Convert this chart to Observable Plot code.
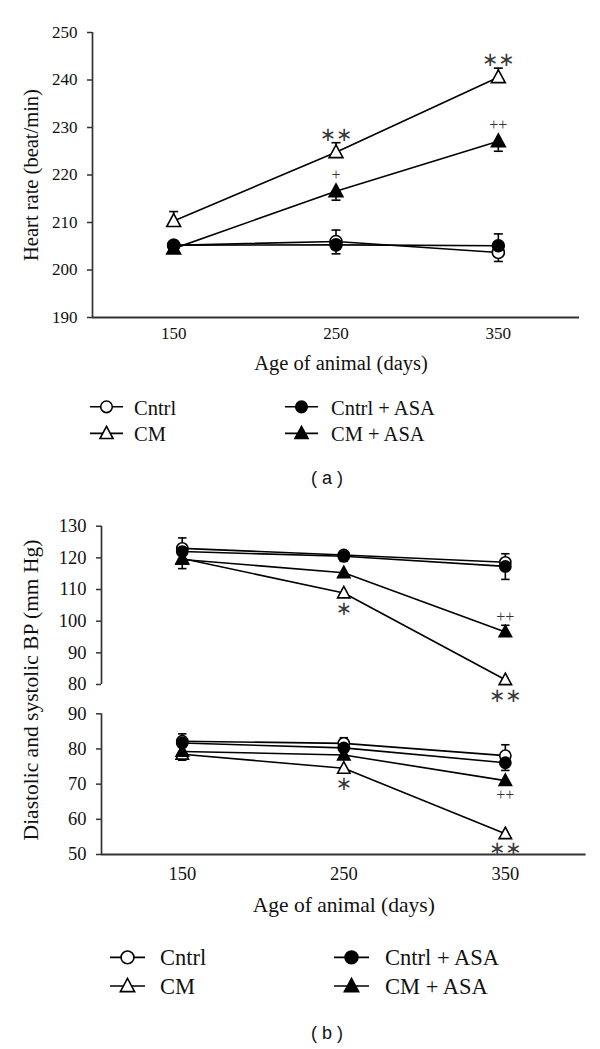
<!DOCTYPE html>
<html>
<head>
<meta charset="utf-8">
<script src="https://cdn.jsdelivr.net/npm/d3@7"></script>
<script src="https://cdn.jsdelivr.net/npm/@observablehq/plot@0.6"></script>
<style>
  body { margin: 0; background: #fff; }
  #page { position: relative; width: 600px; height: 1049px; overflow: hidden; background: #fff;
          font-family: "Liberation Serif", "DejaVu Serif", serif; color: #111; }
  .ltext { position: absolute; white-space: nowrap; line-height: 1; transform: translateY(-50%);
           font-family: "Liberation Serif", "DejaVu Serif", serif; color: #111; }
  .panel-label { position: absolute; font-family: "Liberation Sans", "DejaVu Sans", sans-serif;
                 white-space: pre; line-height: 1; transform: translate(-50%, -50%); color: #111; }
  .ytitle { position: absolute; white-space: nowrap; line-height: 1;
            font-family: "Liberation Serif", "DejaVu Serif", serif; color: #111;
            transform: translate(-50%, -50%) rotate(-90deg); }
</style>
</head>
<body>
<div id="page"></div>
<script>
// ---------------- data ----------------
const ages = [150, 250, 350];
const groups = ["Cntrl", "CM", "Cntrl + ASA", "CM + ASA"];
const xDomain = [100, 400];

// (a) Heart rate (beat/min), mean and SEM
const hrTicks = [190, 200, 210, 220, 230, 240, 250];
const hrCntrl       = [205.2, 206.0, 203.7];
const hrCm          = [210.3, 224.8, 240.6];
const hrCntrlAsa    = [205.2, 205.3, 205.1];
const hrCmAsa       = [204.5, 216.6, 227.1];
const hrCntrlSem    = [0.7, 2.4, 1.9];
const hrCmSem       = [2.0, 2.0, 1.9];
const hrCntrlAsaSem = [0.8, 1.9, 2.5];
const hrCmAsaSem    = [0.8, 1.9, 2.1];
// side on which the error bar is drawn (+1 above, -1 below)
const hrCntrlSide    = [1, 1, -1];
const hrCmSide       = [1, 1, 1];
const hrCntrlAsaSide = [-1, -1, 1];
const hrCmAsaSide    = [-1, -1, -1];
const hrCmSig    = ["", "∗∗", "∗∗"];
const hrCmAsaSig = ["", "+", "++"];

// (b) systolic BP (mm Hg)
const sbpTicks = [80, 90, 100, 110, 120, 130];
const sbpCntrl       = [123.0, 120.9, 118.6];
const sbpCm          = [119.8, 108.9, 81.5];
const sbpCntrlAsa    = [122.0, 120.5, 117.3];
const sbpCmAsa       = [119.5, 115.3, 96.6];
const sbpCntrlSem    = [3.3, 1.2, 2.7];
const sbpCmSem       = [0.8, 1.3, 0.6];
const sbpCntrlAsaSem = [1.0, 1.6, 4.1];
const sbpCmAsaSem    = [2.9, 1.0, 2.1];
const sbpCntrlSide    = [1, 1, 1];
const sbpCmSide       = [-1, -1, -1];
const sbpCntrlAsaSide = [1, -1, -1];
const sbpCmAsaSide    = [-1, -1, 1];
const sbpCmSig    = ["", "∗", "∗∗"];
const sbpCmAsaSig = ["", "", "++"];

// (b) diastolic BP (mm Hg)
const dbpTicks = [50, 60, 70, 80, 90];
const dbpCntrl       = [82.2, 81.6, 78.1];
const dbpCm          = [78.5, 74.5, 55.9];
const dbpCntrlAsa    = [81.7, 80.3, 76.1];
const dbpCmAsa       = [79.3, 78.3, 71.0];
const dbpCntrlSem    = [2.1, 1.6, 3.1];
const dbpCmSem       = [1.7, 0.9, 0.5];
const dbpCntrlAsaSem = [1.0, 0.8, 2.2];
const dbpCmAsaSem    = [0.8, 0.8, 0.8];
const dbpCntrlSide    = [1, 1, 1];
const dbpCmSide       = [-1, -1, -1];
const dbpCntrlAsaSide = [-1, -1, -1];
const dbpCmAsaSide    = [-1, -1, -1];
const dbpCmSig    = ["", "∗", "∗∗"];
const dbpCmAsaSig = ["", "", "++"];

// ---------------- build tables ----------------
function buildTable(series) {
  const rows = [];
  for (const s of series) {
    ages.forEach((age, i) => rows.push({
      group: s.group, age, mean: s.mean[i], sem: s.sem[i], side: s.side[i],
      sig: s.sig ? s.sig[i] : "", sigDir: s.sigDir || 0
    }));
  }
  return rows;
}
const hrTable = buildTable([
  {group: "Cntrl", mean: hrCntrl, sem: hrCntrlSem, side: hrCntrlSide},
  {group: "CM", mean: hrCm, sem: hrCmSem, side: hrCmSide, sig: hrCmSig, sigDir: -1},
  {group: "Cntrl + ASA", mean: hrCntrlAsa, sem: hrCntrlAsaSem, side: hrCntrlAsaSide},
  {group: "CM + ASA", mean: hrCmAsa, sem: hrCmAsaSem, side: hrCmAsaSide, sig: hrCmAsaSig, sigDir: -1}
]);
const sbpTable = buildTable([
  {group: "Cntrl", mean: sbpCntrl, sem: sbpCntrlSem, side: sbpCntrlSide},
  {group: "CM", mean: sbpCm, sem: sbpCmSem, side: sbpCmSide, sig: sbpCmSig, sigDir: 1},
  {group: "Cntrl + ASA", mean: sbpCntrlAsa, sem: sbpCntrlAsaSem, side: sbpCntrlAsaSide},
  {group: "CM + ASA", mean: sbpCmAsa, sem: sbpCmAsaSem, side: sbpCmAsaSide, sig: sbpCmAsaSig, sigDir: -1}
]);
const dbpTable = buildTable([
  {group: "Cntrl", mean: dbpCntrl, sem: dbpCntrlSem, side: dbpCntrlSide},
  {group: "CM", mean: dbpCm, sem: dbpCmSem, side: dbpCmSide, sig: dbpCmSig, sigDir: 1},
  {group: "Cntrl + ASA", mean: dbpCntrlAsa, sem: dbpCntrlAsaSem, side: dbpCntrlAsaSide},
  {group: "CM + ASA", mean: dbpCmAsa, sem: dbpCmAsaSem, side: dbpCmAsaSide, sig: dbpCmAsaSig, sigDir: 1}
]);

// ---------------- styling ----------------
const tri = {draw(ctx, size) {
  const r = Math.sqrt(size / Math.PI);
  ctx.moveTo(0, -r * 1.08); ctx.lineTo(r * 1.02, r * 0.8); ctx.lineTo(-r * 1.02, r * 0.8); ctx.closePath();
}};
const cap = {draw(ctx, size) {
  const r = Math.sqrt(size / Math.PI);
  ctx.moveTo(-r, 0); ctx.lineTo(r, 0);
}};
const markerStyle = {
  "Cntrl": {symbol: "circle", fill: "white"},
  "CM": {symbol: tri, fill: "white"},
  "Cntrl + ASA": {symbol: "circle", fill: "black"},
  "CM + ASA": {symbol: tri, fill: "black"}
};
const drawOrder = ["CM", "CM + ASA", "Cntrl", "Cntrl + ASA"];
const axisColor = "#333";
const serif = '"Liberation Serif", "DejaVu Serif", serif';
const SW = 1.6;

function dataMarks(table, {rc, rt, sigGap, capR}) {
  const errs = table.filter(d => d.sem > 0);
  const marks = [
    Plot.line(table, {x: "age", y: "mean", z: "group", stroke: "black", strokeWidth: SW}),
    Plot.ruleX(errs, {x: "age", y1: "mean", y2: d => d.mean + d.side * d.sem, stroke: "black", strokeWidth: SW}),
    Plot.dot(errs, {x: "age", y: d => d.mean + d.side * d.sem, symbol: cap, r: capR, stroke: "black", strokeWidth: SW, fill: "none"})
  ];
  for (const g of drawOrder) {
    const st = markerStyle[g];
    marks.push(Plot.dot(table.filter(d => d.group === g), {
      x: "age", y: "mean", symbol: st.symbol, r: st.symbol === "circle" ? rc : rt,
      fill: st.fill, stroke: "black", strokeWidth: SW
    }));
  }
  const sigs = table.filter(d => d.sig);
  for (const dir of [-1, 1]) {
    const sub = sigs.filter(d => d.sigDir === dir);
    const stars = sub.filter(d => d.sig.includes("∗"));
    const plus = sub.filter(d => d.sig.includes("+"));
    marks.push(Plot.text(stars, {x: "age", y: "mean", text: "sig", dy: dir * sigGap, lineAnchor: "middle",
      fontFamily: '"DejaVu Sans", sans-serif', fontSize: 19.5, fill: "#3a3a3a"}));
    marks.push(Plot.text(plus, {x: "age", y: "mean", text: "sig", dy: dir * (sigGap - 1), lineAnchor: "middle",
      fontFamily: serif, fontSize: 16, fill: "#333"}));
  }
  return marks;
}

const page = document.getElementById("page");
function place(node, top, left = 0) {
  node.style.position = "absolute";
  node.style.top = top + "px";
  node.style.left = left + "px";
  page.appendChild(node);
}

// ---------------- (a) heart rate ----------------
const chartA = Plot.plot({
  width: 600, height: 380,
  marginTop: 32, marginBottom: 63, marginLeft: 92, marginRight: 21,
  x: {domain: xDomain},
  y: {domain: [hrTicks[0], hrTicks[hrTicks.length - 1]]},
  style: {fontFamily: serif, fontSize: "17px", color: "#111", background: "transparent", overflow: "visible"},
  marks: [
    Plot.axisY({ticks: hrTicks, tickSize: 5, tickPadding: 10, label: null, stroke: axisColor, strokeWidth: 1.5, fontFamily: serif}),
    Plot.axisX({ticks: ages, tickSize: 0, tickPadding: 9, label: null, fontFamily: serif}),
    Plot.ruleX([xDomain[0]], {stroke: axisColor, strokeWidth: 1.7}),
    Plot.ruleY([hrTicks[0]], {stroke: axisColor, strokeWidth: 1.9}),
    ...dataMarks(hrTable, {rc: 6, rt: 6.8, sigGap: 17, capR: 4.5}),
    Plot.text(["Age of animal (days)"], {text: d => d, frameAnchor: "bottom", dy: 46, dx: 5, textAnchor: "middle", lineAnchor: "middle", fontSize: 20.5, fontFamily: serif}),
    Plot.text(["Heart rate (beat/min)"], {text: d => d, frameAnchor: "left", dx: -61, rotate: -90, textAnchor: "middle", lineAnchor: "middle", fontSize: 20.5, fontFamily: serif})
  ]
});
place(chartA, 0);

// ---------------- (b) systolic (upper) ----------------
const chartB1 = Plot.plot({
  width: 600, height: 190,
  marginTop: 25.7, marginBottom: 6, marginLeft: 101, marginRight: 14.4,
  x: {domain: xDomain, axis: null},
  y: {domain: [sbpTicks[0], sbpTicks[sbpTicks.length - 1]]},
  style: {fontFamily: serif, fontSize: "18.5px", color: "#111", background: "transparent", overflow: "visible"},
  marks: [
    Plot.axisY({ticks: sbpTicks, tickSize: 5, tickPadding: 10, label: null, stroke: axisColor, strokeWidth: 1.5, fontFamily: serif}),
    Plot.ruleX([xDomain[0]], {stroke: axisColor, strokeWidth: 1.7}),
    ...dataMarks(sbpTable, {rc: 5.6, rt: 6.1, sigGap: 16, capR: 4.2})
  ]
});
place(chartB1, 500);

// ---------------- (b) diastolic (lower) ----------------
const chartB2 = Plot.plot({
  width: 600, height: 224,
  marginTop: 13.3, marginBottom: 70, marginLeft: 101, marginRight: 14.4,
  x: {domain: xDomain},
  y: {domain: [dbpTicks[0], dbpTicks[dbpTicks.length - 1]]},
  style: {fontFamily: serif, fontSize: "18.5px", color: "#111", background: "transparent", overflow: "visible"},
  marks: [
    Plot.axisY({ticks: dbpTicks, tickSize: 5, tickPadding: 10, label: null, stroke: axisColor, strokeWidth: 1.5, fontFamily: serif}),
    Plot.axisX({ticks: ages, tickSize: 0, tickPadding: 12, label: null, fontFamily: serif}),
    Plot.ruleX([xDomain[0]], {stroke: axisColor, strokeWidth: 1.7}),
    Plot.ruleY([dbpTicks[0]], {stroke: axisColor, strokeWidth: 1.9}),
    ...dataMarks(dbpTable, {rc: 5.6, rt: 6.1, sigGap: 15, capR: 4.2}),
    Plot.text(["Age of animal (days)"], {text: d => d, frameAnchor: "bottom", dy: 51, textAnchor: "middle", lineAnchor: "middle", fontSize: 21.5, fontFamily: serif})
  ]
});
place(chartB2, 700);

// y title spanning both panels of (b)
const yt = document.createElement("div");
yt.className = "ytitle";
yt.textContent = "Diastolic and systolic BP (mm Hg)";
yt.style.left = "32px"; yt.style.top = "690px"; yt.style.fontSize = "21.5px";
page.appendChild(yt);

// ---------------- legends & panel labels ----------------
function legendIcon(group, len, r) {
  const ns = "http://www.w3.org/2000/svg";
  const h = 2 * r + 8;
  const svg = document.createElementNS(ns, "svg");
  svg.setAttribute("width", len); svg.setAttribute("height", h);
  const line = document.createElementNS(ns, "line");
  line.setAttribute("x1", 0); line.setAttribute("x2", len);
  line.setAttribute("y1", h / 2); line.setAttribute("y2", h / 2);
  line.setAttribute("stroke", "black"); line.setAttribute("stroke-width", 1.6);
  svg.appendChild(line);
  const st = markerStyle[group];
  const path = document.createElementNS(ns, "path");
  const sym = st.symbol === "circle" ? d3.symbolCircle : tri;
  path.setAttribute("d", d3.symbol(sym, Math.PI * r * r)());
  path.setAttribute("transform", `translate(${len / 2},${h / 2})`);
  path.setAttribute("fill", st.fill); path.setAttribute("stroke", "black"); path.setAttribute("stroke-width", 1.6);
  svg.appendChild(path);
  return {svg, h};
}
function legend({rows, cols, texts, len, fs, r}) {
  const layout = [["Cntrl", 0, 0], ["CM", 0, 1], ["Cntrl + ASA", 1, 0], ["CM + ASA", 1, 1]];
  for (const [g, c, rI] of layout) {
    const {svg, h} = legendIcon(g, len, g.includes("CM") ? r + 0.6 : r);
    place(svg, rows[rI] - h / 2, cols[c]);
    const t = document.createElement("div");
    t.className = "ltext"; t.textContent = g; t.style.fontSize = fs + "px";
    t.style.left = texts[c] + "px"; t.style.top = (rows[rI] + 0.5) + "px";
    page.appendChild(t);
  }
}
legend({rows: [407, 433], cols: [90, 285], texts: [134, 331], len: 33, fs: 20.5, r: 5.8});
legend({rows: [957, 986], cols: [110, 334], texts: [160, 385], len: 35, fs: 22.5, r: 6.4});

function panelLabel(txt, y) {
  const d = document.createElement("div");
  d.className = "panel-label"; d.textContent = txt;
  d.style.left = "327px"; d.style.top = y + "px"; d.style.fontSize = "18px";
  page.appendChild(d);
}
panelLabel("( a )", 478);
panelLabel("( b )", 1033);
</script>
</body>
</html>
